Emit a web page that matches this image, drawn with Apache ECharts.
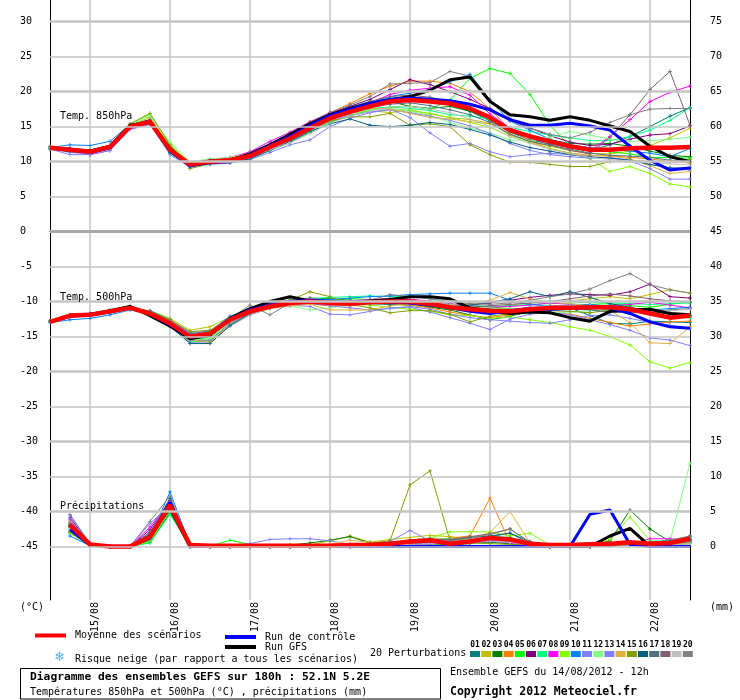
<!DOCTYPE html>
<html>
<head>
<meta charset="utf-8">
<script src="https://cdn.jsdelivr.net/npm/echarts@6.0.0/dist/echarts.min.js"></script>
<style>
html, body { margin: 0; padding: 0; background: #fff; }
#main { width: 740px; height: 700px; }
</style>
</head>
<body>
<div id="main"></div>
<script>
// echéances (pas de 6h) du run GEFS 14/08/2012 12h
var timeSteps = [
    '14/08 12h', '14/08 18h',
    '15/08 00h', '15/08 06h', '15/08 12h', '15/08 18h',
    '16/08 00h', '16/08 06h', '16/08 12h', '16/08 18h',
    '17/08 00h', '17/08 06h', '17/08 12h', '17/08 18h',
    '18/08 00h', '18/08 06h', '18/08 12h', '18/08 18h',
    '19/08 00h', '19/08 06h', '19/08 12h', '19/08 18h',
    '20/08 00h', '20/08 06h', '20/08 12h', '20/08 18h',
    '21/08 00h', '21/08 06h', '21/08 12h', '21/08 18h',
    '22/08 00h', '22/08 06h', '22/08 12h'
];

// graduations
var leftTicks = [30, 25, 20, 15, 10, 5, 0, -5, -10, -15, -20, -25, -30, -35, -40, -45];
var rightTicks = [75, 70, 65, 60, 55, 50, 45, 40, 35, 30, 25, 20, 15, 10, 5, 0];
var majorLines = [30, 20, 10, -10, -20, -30, -40];
var minorLines = [25, 15, 5, -5, -15, -25, -35, -45];
var zeroLines = [0];

var memberNames = ['01', '02', '03', '04', '05', '06', '07', '08', '09', '10',
                   '11', '12', '13', '14', '15', '16', '17', '18', '19', '20'];
var memberColors = ['#008080', '#c0c000', '#008000', '#ff8000', '#00ff00', '#800080', '#00ff80', '#ff00ff', '#80ff00', '#0080ff',
                    '#8080ff', '#80ff80', '#8080ff', '#e0b040', '#80a000', '#006080', '#507080', '#806070', '#c0c0c0', '#808080'];

// Temp. 850hPa (°C)
var t850Mean = [12.0, 11.7, 11.4, 12.1, 15.0, 15.7, 11.7, 9.6, 10.0, 10.2, 10.8, 12.1, 13.3, 14.8, 16.2, 17.1, 17.9, 18.6, 18.8, 18.6, 18.3, 17.6, 16.3, 14.5, 13.6, 12.9, 12.2, 11.7, 11.7, 11.9, 12.0, 12.0, 12.1];
var t850Control = [11.9, 11.8, 11.3, 12.0, 15.1, 15.8, 11.5, 9.4, 9.9, 10.0, 11.0, 12.3, 13.6, 15.2, 16.6, 17.5, 18.3, 18.9, 19.1, 18.9, 18.7, 18.2, 17.4, 16.0, 15.2, 15.2, 15.5, 15.1, 14.5, 12.2, 10.2, 8.8, 9.1];
var t850Gfs = [12.0, 11.6, 11.5, 12.2, 15.2, 15.6, 11.9, 9.5, 10.1, 10.2, 11.1, 12.4, 13.9, 15.4, 16.7, 17.6, 18.3, 18.8, 19.3, 20.2, 21.7, 22.1, 18.6, 16.7, 16.4, 15.9, 16.4, 15.9, 15.1, 14.3, 12.2, 10.7, 10.0];
var t850Members = [
    [12.1, 11.8, 11.5, 12.3, 15.2, 15.9, 11.9, 9.5, 10.1, 10.4, 11.2, 12.6, 13.9, 15.6, 16.9, 17.8, 18.6, 19.0, 19.3, 18.9, 18.1, 17.2, 15.8, 14.2, 13.1, 12.5, 12.0, 11.6, 12.4, 13.6, 15.0, 16.5, 17.7],
    [11.9, 11.4, 11.2, 11.9, 15.1, 16.3, 12.3, 9.8, 10.0, 10.3, 11.1, 12.3, 13.6, 15.0, 16.4, 16.9, 17.3, 17.0, 17.4, 16.8, 16.3, 16.0, 15.5, 13.8, 12.9, 12.2, 11.6, 11.2, 11.1, 11.5, 12.3, 13.4, 14.8],
    [12.0, 11.6, 11.3, 12.0, 15.0, 15.6, 11.4, 9.3, 9.9, 10.0, 10.7, 12.0, 13.4, 15.1, 16.5, 17.3, 18.2, 18.6, 17.9, 17.6, 17.9, 17.2, 16.1, 14.7, 13.8, 13.1, 12.6, 12.5, 12.6, 12.2, 11.5, 10.9, 10.7],
    [12.1, 11.9, 11.6, 12.2, 15.1, 15.8, 11.8, 9.7, 10.2, 10.5, 11.3, 12.5, 13.9, 15.6, 17.0, 18.3, 19.7, 20.8, 21.5, 21.5, 21.2, 20.0, 17.5, 14.6, 13.0, 11.8, 11.2, 10.9, 10.8, 10.6, 10.4, 10.0, 9.8],
    [11.8, 11.5, 11.2, 11.8, 14.8, 15.5, 11.2, 9.4, 9.8, 10.0, 10.5, 11.6, 12.7, 14.2, 15.6, 16.6, 17.3, 17.8, 17.9, 17.5, 18.8, 21.9, 23.3, 22.6, 19.6, 15.2, 12.2, 11.7, 11.4, 11.1, 10.6, 10.6, 10.5],
    [12.0, 11.7, 11.4, 12.1, 15.0, 15.6, 11.6, 9.6, 10.1, 10.3, 11.0, 12.4, 13.8, 15.4, 16.9, 17.9, 18.9, 20.3, 21.7, 21.0, 20.0, 18.9, 17.6, 15.9, 14.8, 13.7, 12.8, 12.3, 12.5, 13.2, 13.8, 14.0, 15.1],
    [11.9, 11.6, 11.3, 11.9, 14.9, 15.5, 11.5, 9.5, 9.9, 10.2, 10.9, 12.3, 13.6, 15.2, 16.4, 17.1, 17.6, 17.8, 17.6, 17.3, 16.7, 16.5, 16.1, 14.9, 14.3, 13.8, 13.4, 13.0, 13.0, 13.6, 14.5, 15.9, 17.7],
    [12.0, 11.5, 11.0, 11.6, 14.7, 15.5, 11.8, 9.8, 10.3, 10.6, 11.4, 12.9, 14.2, 15.7, 17.0, 17.7, 18.4, 19.6, 20.2, 20.5, 20.7, 19.5, 16.8, 14.8, 13.6, 12.7, 12.1, 11.5, 13.6, 16.0, 18.6, 19.9, 20.8],
    [11.9, 11.5, 11.2, 11.7, 15.2, 16.8, 12.6, 9.7, 10.0, 10.3, 11.0, 12.2, 13.5, 15.0, 16.3, 17.1, 17.5, 17.6, 17.3, 16.9, 16.3, 15.6, 14.9, 13.6, 12.7, 11.9, 11.2, 10.4, 8.6, 9.3, 8.3, 6.8, 6.4],
    [12.0, 12.4, 12.3, 12.9, 15.3, 15.6, 11.3, 9.3, 9.8, 10.0, 10.6, 11.9, 13.3, 15.1, 16.6, 17.5, 18.4, 19.3, 19.8, 20.3, 21.4, 22.5, 18.8, 15.8, 14.5, 13.2, 12.4, 12.0, 11.8, 11.5, 11.2, 10.7, 11.9],
    [11.8, 11.0, 11.0, 11.6, 14.6, 15.3, 11.0, 9.2, 9.6, 9.8, 10.3, 11.3, 12.4, 13.1, 15.0, 16.2, 17.0, 17.5, 16.3, 14.1, 12.2, 12.6, 11.4, 10.7, 11.0, 11.2, 11.0, 10.6, 10.5, 10.1, 9.0, 7.5, 7.5],
    [12.1, 11.8, 11.5, 12.0, 15.3, 16.5, 12.8, 10.0, 10.4, 10.6, 11.2, 12.3, 13.6, 15.0, 16.2, 16.9, 17.4, 17.6, 17.2, 16.6, 15.6, 14.8, 14.1, 13.1, 13.0, 13.5, 14.3, 13.8, 13.2, 12.9, 13.0, 13.2, 13.5],
    [11.9, 11.3, 11.1, 11.8, 14.8, 15.4, 11.3, 9.4, 9.7, 9.9, 10.5, 11.7, 12.8, 14.4, 15.8, 16.6, 17.1, 17.4, 17.0, 16.5, 15.9, 15.1, 14.0, 12.6, 11.6, 11.0, 10.7, 10.5, 10.6, 10.2, 9.6, 9.1, 8.8],
    [12.0, 11.7, 11.4, 12.2, 15.1, 15.9, 12.0, 9.8, 10.1, 10.3, 11.0, 12.3, 13.8, 15.4, 16.7, 17.3, 17.6, 17.5, 16.9, 16.3, 16.1, 15.7, 15.4, 14.0, 12.8, 11.8, 11.2, 10.9, 10.8, 10.4, 9.4, 8.3, 8.6],
    [12.2, 11.8, 11.6, 12.2, 15.4, 16.9, 12.4, 9.0, 9.7, 10.0, 10.9, 12.1, 13.2, 14.6, 15.8, 16.4, 16.4, 16.9, 15.2, 15.4, 15.0, 12.4, 11.0, 9.9, 9.9, 9.6, 9.3, 9.3, 10.0, 10.2, 10.0, 10.1, 10.3],
    [12.0, 11.6, 11.3, 11.9, 14.9, 15.5, 11.3, 9.3, 9.7, 9.9, 10.4, 11.6, 12.9, 14.3, 15.4, 16.1, 15.2, 15.0, 15.2, 15.6, 15.3, 14.6, 13.8, 12.8, 12.0, 11.5, 11.0, 10.7, 10.5, 10.2, 9.6, 9.1, 9.1],
    [12.0, 11.7, 11.5, 12.1, 15.0, 15.7, 11.6, 9.5, 9.9, 10.1, 10.8, 12.2, 13.5, 15.0, 16.3, 17.2, 17.8, 18.2, 18.4, 18.0, 17.4, 16.7, 15.6, 13.9, 12.9, 12.3, 11.8, 11.2, 10.9, 10.8, 10.6, 10.2, 10.0],
    [12.0, 11.8, 11.5, 12.0, 15.1, 15.8, 11.8, 9.6, 10.0, 10.2, 10.9, 12.2, 13.5, 15.0, 16.5, 17.5, 18.6, 19.3, 19.5, 19.2, 18.6, 17.8, 16.4, 14.6, 13.4, 12.4, 11.6, 11.1, 13.5, 16.7, 20.3, 22.9, 15.2],
    [12.0, 11.7, 11.4, 12.0, 14.9, 15.6, 11.6, 9.6, 10.0, 10.1, 10.7, 11.7, 12.7, 14.0, 15.5, 16.5, 17.2, 17.8, 17.9, 17.5, 17.0, 16.1, 15.0, 13.6, 12.6, 11.8, 11.1, 10.6, 10.3, 10.1, 9.9, 9.7, 9.5],
    [12.1, 11.9, 11.7, 12.3, 15.2, 16.0, 12.0, 9.7, 10.1, 10.3, 11.1, 12.5, 14.0, 15.6, 17.0, 18.1, 19.3, 21.1, 21.2, 21.3, 22.9, 22.2, 18.9, 16.2, 14.8, 13.9, 13.4, 14.2, 15.6, 16.7, 17.5, 17.6, 17.6]
];

// Temp. 500hPa (°C)
var t500Mean = [-12.9, -12.0, -11.9, -11.4, -10.9, -11.7, -13.1, -15.0, -14.6, -12.6, -11.4, -10.7, -10.2, -10.0, -10.2, -10.3, -10.1, -10.0, -10.0, -10.3, -10.8, -11.1, -11.3, -11.4, -11.1, -10.9, -10.9, -10.8, -10.8, -11.1, -11.7, -12.3, -12.0];
var t500Control = [-12.9, -12.1, -11.9, -11.5, -10.9, -11.8, -13.3, -15.1, -14.7, -12.5, -11.2, -10.5, -10.0, -9.8, -10.0, -10.1, -10.0, -10.1, -10.2, -10.5, -10.9, -11.4, -11.7, -11.3, -11.0, -11.1, -11.0, -10.9, -10.9, -11.7, -12.9, -13.6, -13.8];
var t500Gfs = [-12.9, -12.0, -11.8, -11.3, -10.7, -12.0, -13.5, -15.3, -14.8, -12.4, -11.0, -10.0, -9.3, -9.9, -10.1, -10.2, -9.9, -9.7, -9.3, -9.3, -9.6, -10.9, -11.3, -11.7, -11.5, -11.6, -12.3, -12.8, -11.4, -11.2, -11.1, -11.7, -11.9];
var t500Members = [
    [-12.9, -12.1, -11.8, -11.3, -10.8, -11.5, -13.0, -15.1, -14.9, -12.7, -11.3, -10.5, -10.0, -9.9, -10.0, -10.1, -10.0, -9.9, -10.0, -10.2, -10.6, -10.9, -11.0, -11.2, -10.9, -10.6, -10.9, -12.0, -13.1, -13.2, -12.8, -12.9, -13.0],
    [-12.8, -12.0, -11.9, -11.5, -11.0, -11.3, -12.4, -14.1, -13.6, -12.2, -11.2, -10.6, -10.1, -9.7, -9.8, -10.0, -10.2, -10.4, -10.6, -10.8, -11.0, -11.3, -11.1, -10.5, -10.2, -10.0, -9.9, -9.6, -9.3, -9.6, -9.0, -8.3, -8.8],
    [-12.9, -12.1, -11.9, -11.4, -10.9, -11.8, -13.3, -15.4, -15.0, -12.8, -11.3, -10.4, -9.9, -9.5, -9.6, -9.8, -9.9, -10.0, -10.3, -10.8, -11.2, -11.9, -12.6, -12.1, -11.4, -11.3, -11.0, -10.8, -10.5, -10.9, -11.3, -11.8, -12.2],
    [-12.9, -12.0, -11.9, -11.4, -10.9, -11.6, -13.2, -15.3, -15.7, -13.2, -11.6, -10.9, -10.5, -10.3, -10.6, -10.6, -10.2, -10.3, -10.5, -10.9, -11.5, -12.0, -12.3, -11.9, -11.5, -11.6, -11.8, -12.4, -13.0, -13.5, -13.2, -12.9, -12.8],
    [-12.8, -12.0, -11.9, -11.4, -10.9, -11.6, -13.4, -15.8, -15.6, -13.1, -11.5, -10.4, -9.9, -9.6, -9.7, -9.6, -9.7, -9.8, -9.9, -10.1, -10.4, -10.6, -10.8, -11.0, -11.1, -10.9, -10.6, -10.4, -10.3, -10.6, -10.8, -10.4, -10.0],
    [-12.9, -12.1, -11.9, -11.4, -10.9, -11.7, -13.0, -14.8, -14.4, -12.4, -11.2, -10.6, -10.2, -10.0, -10.2, -10.4, -10.1, -9.9, -9.7, -10.0, -10.4, -10.5, -10.2, -9.8, -9.4, -9.1, -8.9, -9.0, -9.1, -8.6, -7.5, -9.3, -9.5],
    [-12.9, -12.0, -11.8, -11.3, -10.8, -11.7, -13.3, -15.4, -15.2, -12.9, -11.4, -10.3, -9.8, -9.6, -9.4, -9.3, -9.2, -9.3, -9.2, -9.6, -10.1, -10.5, -10.7, -10.6, -10.4, -10.3, -10.2, -10.1, -10.2, -10.3, -10.4, -10.3, -10.2],
    [-12.8, -11.9, -11.7, -11.3, -10.8, -11.5, -12.9, -14.9, -14.5, -12.4, -11.0, -10.2, -9.8, -9.6, -9.8, -9.9, -9.7, -9.6, -9.7, -9.9, -10.3, -10.6, -10.8, -10.7, -10.5, -10.2, -10.4, -10.8, -10.6, -10.4, -10.1, -10.5, -10.9],
    [-12.9, -12.1, -11.9, -11.4, -10.9, -11.9, -13.5, -15.6, -15.3, -12.9, -11.4, -10.5, -10.0, -9.8, -10.1, -10.4, -10.5, -10.8, -11.1, -11.4, -11.9, -12.0, -12.4, -12.2, -12.6, -13.0, -13.6, -14.1, -15.0, -16.2, -18.6, -19.5, -18.7],
    [-13.0, -12.6, -12.4, -11.9, -11.2, -11.3, -12.6, -14.6, -14.2, -12.1, -11.0, -10.4, -9.9, -9.7, -9.7, -9.5, -9.3, -9.2, -9.0, -8.9, -8.8, -8.8, -8.8, -9.8, -10.4, -10.7, -10.5, -10.4, -10.7, -11.0, -11.2, -11.0, -10.8],
    [-12.9, -12.2, -12.1, -11.6, -11.0, -11.9, -13.6, -15.9, -15.9, -13.5, -11.9, -11.0, -10.5, -10.7, -11.8, -11.9, -11.4, -10.9, -10.8, -11.5, -12.3, -13.1, -14.0, -12.5, -11.8, -11.5, -11.9, -12.6, -13.3, -14.1, -15.2, -15.5, -16.3],
    [-12.9, -12.0, -11.9, -11.4, -10.9, -11.8, -13.2, -15.5, -15.3, -12.9, -11.5, -10.8, -10.6, -11.2, -10.9, -10.5, -10.3, -10.2, -10.0, -10.1, -10.4, -10.7, -10.9, -11.2, -11.5, -11.6, -11.5, -11.3, -11.2, -11.5, -11.8, -12.1, -12.4],
    [-12.9, -12.1, -12.0, -11.5, -11.0, -11.8, -13.4, -15.6, -15.5, -13.1, -11.6, -10.9, -10.6, -10.3, -10.6, -10.9, -11.2, -11.0, -10.7, -11.1, -11.8, -12.3, -12.6, -12.8, -13.0, -13.1, -12.6, -12.0, -11.9, -12.4, -13.0, -13.4, -13.8],
    [-12.9, -12.0, -11.9, -11.4, -10.9, -11.7, -13.2, -15.4, -15.9, -13.4, -11.8, -11.0, -10.6, -10.4, -11.2, -11.2, -11.2, -10.6, -10.2, -10.4, -10.7, -10.3, -9.8, -8.7, -9.6, -10.1, -10.3, -10.6, -11.3, -13.0, -15.9, -16.0, -13.6],
    [-12.8, -12.0, -11.8, -11.3, -10.8, -11.4, -12.6, -14.3, -14.1, -12.4, -11.1, -10.2, -9.8, -8.6, -9.3, -10.4, -10.9, -11.6, -11.3, -11.3, -11.8, -12.9, -12.1, -11.7, -11.4, -11.3, -11.4, -11.6, -11.2, -11.0, -11.3, -11.6, -11.9],
    [-12.9, -12.1, -11.9, -11.4, -10.9, -11.8, -13.5, -16.0, -16.0, -13.4, -11.7, -10.8, -10.2, -10.0, -10.0, -10.2, -10.3, -10.4, -10.2, -10.4, -10.7, -10.5, -10.1, -9.6, -8.6, -9.3, -8.6, -9.4, -10.3, -10.8, -11.4, -11.8, -12.0],
    [-12.9, -12.0, -11.9, -11.4, -10.9, -11.7, -13.1, -15.1, -14.8, -12.7, -11.4, -10.7, -10.2, -10.0, -10.1, -10.2, -10.1, -10.0, -10.1, -10.4, -10.8, -11.2, -11.4, -11.6, -11.4, -11.1, -11.0, -11.2, -11.5, -11.6, -11.5, -11.2, -11.0],
    [-12.9, -12.0, -11.8, -11.4, -10.8, -11.6, -13.0, -15.1, -14.7, -12.5, -11.3, -10.6, -10.0, -9.9, -10.0, -10.1, -10.0, -10.1, -10.3, -10.6, -10.9, -10.8, -10.6, -10.4, -10.2, -10.0, -9.6, -9.2, -8.9, -9.2, -9.6, -9.9, -10.1],
    [-12.9, -12.0, -11.9, -11.4, -10.9, -11.6, -13.0, -14.9, -14.6, -12.6, -11.4, -10.7, -10.3, -10.1, -10.2, -10.2, -10.0, -9.9, -9.9, -10.1, -10.5, -10.9, -11.2, -11.1, -10.8, -10.6, -10.5, -10.6, -10.9, -11.1, -11.4, -11.3, -11.1],
    [-12.8, -12.0, -11.8, -11.2, -10.6, -11.5, -12.7, -14.4, -14.3, -12.4, -10.5, -11.9, -10.2, -10.0, -10.0, -10.1, -9.8, -9.0, -9.3, -9.6, -10.0, -10.3, -10.4, -10.2, -9.8, -9.3, -8.9, -8.2, -7.0, -6.0, -7.6, -8.3, -8.8]
];

// Précipitations (mm par 6h), pas de valeur à l'échéance 0
var rrMean = [null, 3.1, 0.3, 0, 0, 1.4, 5.9, 0.2, 0.1, 0.1, 0.1, 0.1, 0.1, 0.1, 0.1, 0.2, 0.2, 0.4, 0.7, 0.9, 0.4, 0.7, 1.2, 1.0, 0.4, 0.2, 0.2, 0.3, 0.4, 0.6, 0.4, 0.5, 1.1];
var rrControl = [null, 2.4, 0.2, 0, 0, 1.2, 6.3, 0, 0, 0, 0, 0, 0, 0, 0, 0, 0, 0, 0, 0, 0, 0, 0, 0, 0, 0, 0, 4.6, 5.2, 0.3, 0, 0, 0];
var rrGfs = [null, 3.0, 0.2, 0, 0, 1.5, 5.5, 0, 0, 0, 0, 0, 0, 0, 0, 0, 0, 0, 0, 0, 0, 0, 0, 0, 0, 0, 0, 0, 1.5, 2.6, 0, 0, 0];
var rrMembers = [
    [null, 3.2, 0.3, 0, 0, 1.8, 6.0, 0.1, 0, 0, 0, 0, 0, 0, 0, 0, 0.1, 0.3, 0.5, 0.6, 0.2, 0.4, 1.4, 1.9, 0.4, 0, 0, 0.1, 0.2, 0.4, 0.3, 0.2, 0.6],
    [null, 2.7, 0.2, 0, 0, 1.1, 5.4, 0, 0, 0, 0, 0, 0, 0.2, 0.8, 1.5, 0.6, 1.0, 1.3, 1.6, 1.4, 1.1, 0.7, 0.3, 0.1, 0, 0, 0, 0.2, 0.3, 0.2, 0.2, 0.4],
    [null, 2.0, 0.1, 0, 0, 0.6, 4.8, 0, 0, 0, 0.1, 0.1, 0.2, 0.5, 0.9, 1.4, 0.5, 0.4, 0.3, 0.2, 0.3, 0.5, 0.6, 0.4, 0.2, 0, 0, 0.1, 0.8, 5.2, 2.5, 0.7, 0.5],
    [null, 3.5, 0.3, 0, 0, 1.6, 6.2, 0.2, 0, 0, 0, 0, 0, 0, 0, 0.1, 0.2, 0.5, 0.8, 1.0, 1.2, 1.5, 6.9, 0.5, 0.2, 0, 0, 0, 0.1, 0.3, 0.4, 0.6, 0.7],
    [null, 2.9, 0.2, 0, 0, 0.8, 5.0, 0, 0, 0.9, 0.3, 0, 0, 0, 0.1, 0.2, 0.3, 0.6, 0.6, 0.5, 0.4, 0.8, 1.0, 0.6, 0.3, 0, 0, 0, 0.1, 0.2, 0.5, 0.9, 1.3],
    [null, 4.1, 0.4, 0, 0, 2.4, 6.6, 0.1, 0, 0, 0, 0, 0, 0, 0, 0, 0.2, 0.3, 0.4, 0.5, 0.7, 0.9, 1.2, 0.8, 0.3, 0, 0, 0, 0.2, 0.4, 0.6, 0.8, 1.0],
    [null, 2.3, 0.2, 0, 0, 0.5, 4.6, 0, 0, 0, 0, 0.1, 0, 0, 0, 0.1, 0.3, 0.6, 0.9, 1.2, 1.1, 0.9, 1.5, 1.3, 0.6, 0, 0, 0, 0.1, 0.3, 0.7, 0.9, 1.2],
    [null, 3.8, 0.3, 0, 0, 2.8, 6.4, 0.1, 0, 0, 0, 0, 0, 0, 0, 0, 0.1, 0.2, 0.3, 0.4, 0.5, 0.7, 0.8, 0.5, 0.2, 0, 0, 0, 0.1, 0.3, 1.1, 1.1, 0.9],
    [null, 1.9, 0.1, 0, 0, 0.7, 5.2, 0, 0, 0, 0, 0, 0, 0, 0, 0, 0.1, 0.3, 0.9, 1.2, 2.1, 2.1, 2.1, 1.5, 1.9, 0.2, 0, 0.2, 1.0, 4.2, 0.8, 0.4, 0.6],
    [null, 1.5, 0.1, 0, 0, 1.3, 7.8, 0.2, 0, 0, 0, 0, 0, 0, 0, 0, 0, 0.2, 0.4, 0.6, 0.5, 0.7, 1.0, 0.8, 0.3, 0, 0, 0, 0.1, 0.2, 0.3, 0.5, 0.8],
    [null, 4.4, 0.4, 0, 0, 3.3, 5.8, 0.1, 0, 0.1, 0.4, 1.0, 1.1, 1.1, 0.8, 0.3, 0.3, 0.7, 2.3, 0.8, 0.5, 0.6, 0.9, 0.7, 0.3, 0, 0, 0, 0.1, 0.2, 0.3, 0.4, 0.5],
    [null, 2.6, 0.2, 0, 0, 1.0, 5.6, 0, 0, 0, 0, 0, 0, 0, 0, 0, 0.1, 0.3, 0.6, 0.8, 0.6, 0.8, 1.1, 0.9, 0.5, 0.1, 0, 0, 0.1, 0.2, 0.4, 0.7, 11.9],
    [null, 3.9, 0.3, 0, 0, 2.1, 6.9, 0.1, 0, 0, 0, 0, 0, 0, 0, 0, 0.1, 0.2, 0.5, 0.7, 0.6, 0.5, 0.7, 0.6, 0.3, 0, 0, 0, 0.1, 0.3, 0.4, 0.3, 0.4],
    [null, 3.4, 0.3, 0, 0, 1.5, 6.1, 0.1, 0, 0, 0, 0, 0, 0, 0.3, 0.9, 0.6, 0.5, 0.9, 1.2, 1.0, 1.1, 2.0, 5.0, 0.5, 0.1, 0, 0, 0.2, 0.4, 0.5, 0.4, 0.6],
    [null, 2.2, 0.2, 0, 0, 0.9, 5.3, 0, 0, 0, 0, 0, 0, 0, 0, 0.2, 0.5, 0.8, 8.8, 10.8, 0.8, 0.5, 0.4, 0.3, 0.1, 0, 0, 0, 0.1, 0.2, 0.3, 0.4, 0.5],
    [null, 3.0, 0.3, 0, 0, 1.7, 6.8, 0.1, 0, 0, 0, 0, 0, 0, 0, 0.1, 0.3, 0.6, 0.8, 1.0, 0.9, 1.3, 1.5, 1.9, 0.7, 0.1, 0, 0, 0.1, 0.3, 0.6, 0.8, 1.0],
    [null, 2.8, 0.2, 0, 0, 1.2, 5.9, 0, 0, 0, 0, 0, 0, 0, 0, 0, 0.1, 0.3, 0.6, 0.7, 0.6, 0.9, 1.3, 1.2, 0.4, 0, 0, 0, 0.1, 0.2, 0.3, 0.5, 0.7],
    [null, 3.3, 0.3, 0, 0, 2.0, 6.5, 0.1, 0, 0, 0, 0, 0, 0, 0, 0, 0.1, 0.2, 0.4, 0.8, 1.0, 1.4, 1.8, 2.5, 0.6, 0, 0, 0, 0.1, 0.2, 0.4, 0.6, 1.5],
    [null, 2.5, 0.2, 0, 0, 1.4, 5.7, 0, 0, 0, 0, 0, 0, 0, 0, 0, 0.1, 0.2, 0.3, 0.4, 0.4, 0.6, 0.8, 0.6, 0.2, 0, 0, 0, 0.1, 0.1, 0.2, 0.3, 0.4],
    [null, 4.6, 0.4, 0, 0, 3.6, 7.2, 0.1, 0, 0, 0, 0, 0, 0, 0, 0, 0.1, 0.3, 0.5, 0.7, 0.8, 1.2, 1.7, 2.5, 0.6, 0, 0, 0, 0.1, 0.3, 0.5, 0.9, 1.5]
];

var FONT = 'DejaVu Sans Mono';
var crossSymbol = 'path://M2,0H3V2H5V3H3V5H2V3H0V2H2Z';

var myChart = echarts.init(document.getElementById('main'), null, {renderer: 'canvas'});

function isDay(index, value) {
    return value.slice(6) === '00h';
}

var series = [];

// lignes de grille horizontales
function gridLine(v, width, color) {
    return {yAxis: v, lineStyle: {width: width, color: color, type: 'solid'}};
}
series.push({
    name: 'grille',
    type: 'line',
    data: [],
    z: 1,
    silent: true,
    markLine: {
        silent: true,
        symbol: ['none', 'none'],
        label: {show: false},
        animation: false,
        data: majorLines.map(function (v) { return gridLine(v, 2.5, '#c4c4c4'); })
            .concat(minorLines.map(function (v) { return gridLine(v, 1.5, '#c4c4c4'); }))
            .concat(zeroLines.map(function (v) { return gridLine(v, 3, '#a8a8a8'); }))
    }
});

function addGroup(members, control, gfs, mean, axis) {
    members.forEach(function (d, k) {
        series.push({
            name: memberNames[k],
            type: 'line',
            yAxisIndex: axis,
            data: d,
            symbol: crossSymbol,
            symbolSize: 4,
            showAllSymbol: true,
            lineStyle: {width: 1, color: memberColors[k]},
            itemStyle: {color: memberColors[k]},
            z: 2
        });
    });
    series.push({
        name: 'Run GFS', type: 'line', yAxisIndex: axis, data: gfs, showSymbol: false,
        lineStyle: {width: 3, color: '#000000'}, itemStyle: {color: '#000000'}, z: 3
    });
    series.push({
        name: 'Run de contrôle', type: 'line', yAxisIndex: axis, data: control, showSymbol: false,
        lineStyle: {width: 3, color: '#0000ff'}, itemStyle: {color: '#0000ff'}, z: 3
    });
    series.push({
        name: 'Moyenne des scénarios', type: 'line', yAxisIndex: axis, data: mean, showSymbol: false,
        lineStyle: {width: 4.5, color: '#ff0000'}, itemStyle: {color: '#ff0000'}, z: 4
    });
}
addGroup(t850Members, t850Control, t850Gfs, t850Mean, 0);
addGroup(t500Members, t500Control, t500Gfs, t500Mean, 0);
addGroup(rrMembers, rrControl, rrGfs, rrMean, 1);

// légende des perturbations
var pertLegend = [];
memberColors.forEach(function (c, k) {
    var x = 470 + k * 11.2;
    pertLegend.push({type: 'rect', shape: {x: x, y: 651, width: 10, height: 6}, style: {fill: c}});
    pertLegend.push({type: 'text', x: x + 5, y: 644.5,
        style: {text: memberNames[k], fill: '#000', font: 'bold 8px ' + FONT, align: 'center', verticalAlign: 'middle'}});
});

function label(text, x, y, opts) {
    opts = opts || {};
    return {type: 'text', x: x, y: y, z: 10,
        style: {text: text, fill: opts.color || '#000', font: (opts.bold ? 'bold ' : '') + (opts.size || 10) + 'px ' + (opts.family || FONT),
                verticalAlign: 'middle', align: opts.align || 'left'}};
}

var option = {
    animation: false,
    backgroundColor: '#ffffff',
    textStyle: {fontFamily: FONT},
    grid: {left: 50, right: 50, top: 0, height: 600, containLabel: false},
    legend: [
        {
            data: ['Moyenne des scénarios'], left: 30, top: 624, icon: 'rect',
            itemWidth: 31, itemHeight: 4, selectedMode: false,
            textStyle: {fontFamily: FONT, fontSize: 10, color: '#000', lineHeight: 10, padding: [3, 0, 0, 4]}
        },
        {
            data: ['Run de contrôle', 'Run GFS'], orient: 'vertical', left: 220, top: 627, icon: 'rect',
            itemWidth: 31, itemHeight: 4, itemGap: 0, selectedMode: false,
            textStyle: {fontFamily: FONT, fontSize: 10, color: '#000', lineHeight: 10, padding: [0, 0, 0, 4]}
        }
    ],
    xAxis: {
        type: 'category',
        data: timeSteps,
        boundaryGap: false,
        axisLine: {lineStyle: {color: '#000', width: 1}},
        axisTick: {show: false},
        axisLabel: {
            interval: isDay,
            rotate: 90,
            margin: 2,
            verticalAlign: 'top',
            fontFamily: FONT, fontSize: 10, color: '#000',
            formatter: function (v) { return v.slice(0, 5); }
        },
        splitLine: {show: true, interval: isDay, lineStyle: {color: '#c4c4c4', width: 1.5}}
    },
    yAxis: [
        {
            type: 'value', position: 'left', min: -52.65, max: 33.1,
            axisLine: {show: true, lineStyle: {color: '#000', width: 1}},
            axisTick: {show: false, customValues: leftTicks},
            splitLine: {show: false},
            axisLabel: {customValues: leftTicks, align: 'left', margin: 30, fontFamily: FONT, fontSize: 10, color: '#000'}
        },
        {
            type: 'value', position: 'right', min: -7.65, max: 78.1,
            axisLine: {show: true, lineStyle: {color: '#000', width: 1}},
            axisTick: {show: false, customValues: rightTicks},
            splitLine: {show: false},
            axisLabel: {customValues: rightTicks, align: 'left', margin: 20, fontFamily: FONT, fontSize: 10, color: '#000'}
        }
    ],
    graphic: [
        label('Temp. 850hPa', 60, 116),
        label('Temp. 500hPa', 60, 297),
        label('Précipitations', 60, 506),
        label('(°C)', 20, 607),
        label('(mm)', 710, 607),
        label('❄', 54, 658, {color: '#5aaee8', size: 13, family: 'DejaVu Sans'}),
        label('Risque neige (par rapport a tous les scénarios)', 75, 659),
        label('20 Perturbations', 370, 653),
        {type: 'group', children: pertLegend},
        {type: 'rect', shape: {x: 20.5, y: 668.5, width: 420, height: 30.5}, style: {fill: '#fff', stroke: '#000', lineWidth: 1}},
        label('Diagramme des ensembles GEFS sur 180h : 52.1N 5.2E', 30, 677, {bold: true, size: 11.3}),
        label('Températures 850hPa et 500hPa (°C) , précipitations (mm)', 30, 692),
        label('Ensemble GEFS du 14/08/2012 - 12h', 450, 672),
        label('Copyright 2012 Meteociel.fr', 450, 692, {bold: true, size: 11.5})
    ],
    series: series
};
myChart.setOption(option);
</script>
</body>
</html>
